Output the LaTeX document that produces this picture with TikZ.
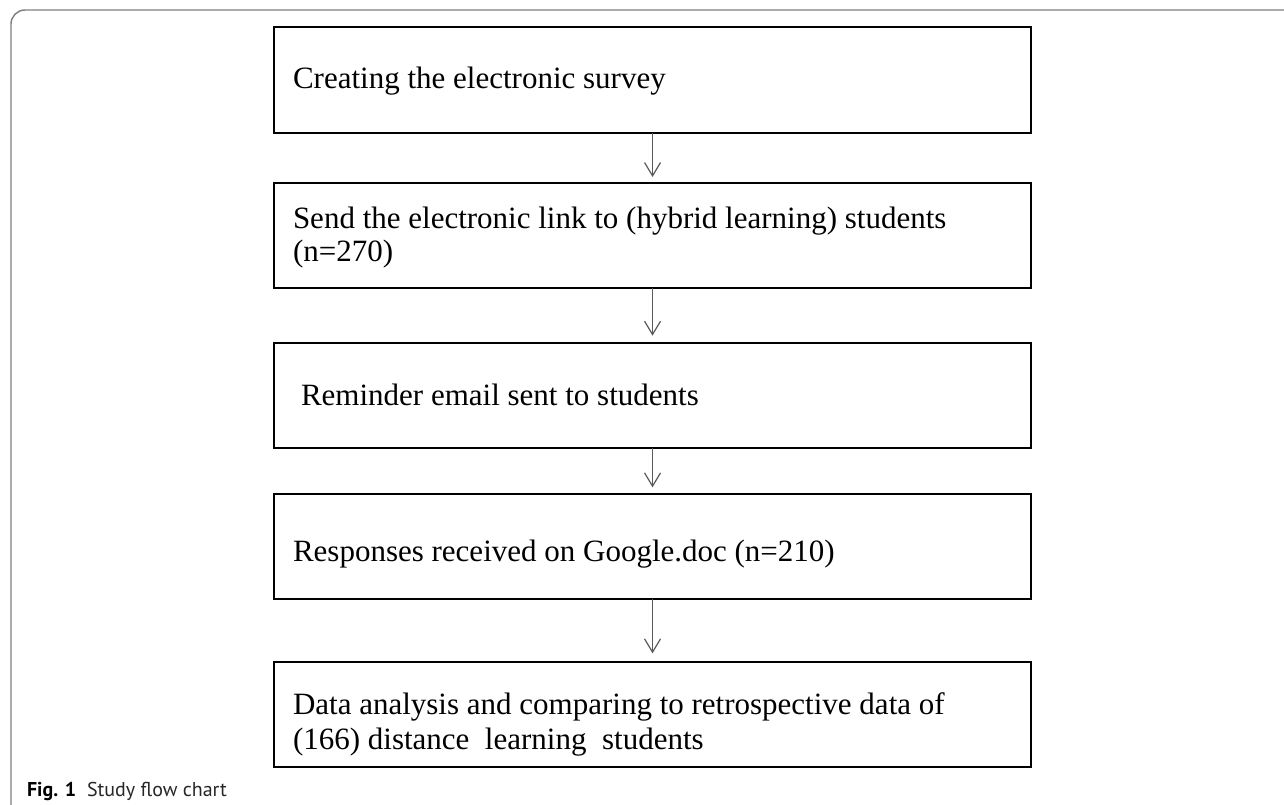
\documentclass[tikz,border=0pt]{standalone}
\usepackage{fontspec}
\setmainfont{Liberation Serif}
\newfontfamily\capfont{PT Sans}
\usetikzlibrary{arrows.meta,shadows}
\begin{document}
\begin{tikzpicture}[x=0.75pt,y=-0.75pt,
  box/.style={draw=black,fill=white,line width=1.5pt,inner sep=0pt,outer sep=0pt,
    minimum width=567.75pt,minimum height=78.75pt,
    drop shadow={shadow xshift=0.9pt,shadow yshift=-0.9pt,fill=black!30,opacity=1}},
  txt/.style={anchor=base west,inner sep=0pt,outer sep=0pt,font=\fontsize{23.25pt}{27pt}\selectfont},
  arr/.style={draw=black!65,line width=0.9pt,-{Straight Barb[length=10pt,width=12pt,line width=0.9pt]}},
  frame/.style={draw=black!50,line width=1.1pt,rounded corners=10.5pt},
  captext/.style={anchor=base west,inner sep=0pt,outer sep=0pt,font=\capfont\fontsize{15pt}{18pt}\selectfont}]
\useasboundingbox (0,0) rectangle (1284,805);
\draw[frame] (11,806) -- (11,10) -- (1285,10);
\node[box,minimum height=79.5pt] (b1) at (652.5,80) {};
\node[box] (b2) at (652.5,235.5) {};
\node[box] (b3) at (652.5,395.5) {};
\node[box] (b4) at (652.5,546.5) {};
\node[box] (b5) at (652.5,714.5) {};
\node[txt] (t1) at (293,89) {Creating the electronic survey};
\node[txt] (t2a) at (293,229) {Send the electronic link to (hybrid learning) students};
\node[txt] (t2b) at (293,262) {(n=270)};
\node[txt] (t3) at (301,405) {Reminder email sent to students};
\node[txt] (t4) at (293,561) {Responses received on Google.doc (n=210)};
\node[txt] (t5a) at (293,714) {Data analysis and comparing to retrospective data of};
\node[txt] (t5b) at (293,749) {(166) distance\ \ learning\ \ students};
\draw[arr] (b1.south) -- ([yshift=4.5pt]b2.north);
\draw[arr] (b2.south) -- ([yshift=5.5pt]b3.north);
\draw[arr] (b3.south) -- ([yshift=5pt]b4.north);
\draw[arr] (b4.south) -- ([yshift=6.5pt]b5.north);
\node[captext] (c1) at (27,796) {\bfseries Fig. 1};
\node[captext,text=black!85] (c2) at (87,796) {Study flow chart};
\end{tikzpicture}
\end{document}
